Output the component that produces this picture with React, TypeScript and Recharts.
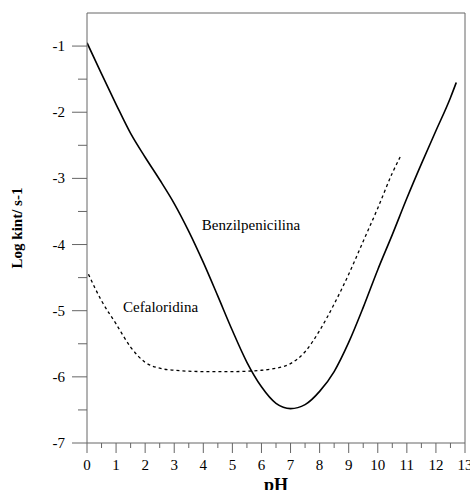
import {
  ComposedChart,
  Line,
  XAxis,
  YAxis,
  ReferenceLine,
  ReferenceDot,
  Label,
} from 'recharts'

// Benzilpenicilina (solid)
const benzPh = [0, 0.5, 1, 1.5, 2, 2.5, 3, 3.5, 4, 4.5, 5, 5.5, 6, 6.5, 7, 7.5, 8, 8.5, 9, 9.5, 10, 10.5, 11, 11.5, 12, 12.5, 12.7]
const benzLogK = [-0.95, -1.42, -1.88, -2.32, -2.68, -3.02, -3.38, -3.8, -4.27, -4.78, -5.3, -5.78, -6.15, -6.4, -6.48, -6.42, -6.22, -5.92, -5.48, -4.95, -4.38, -3.85, -3.3, -2.78, -2.28, -1.78, -1.55]

// Cefaloridina (dashed)
const cefaPh = [0.05, 0.5, 1, 1.5, 2, 2.5, 3, 4, 5, 6, 6.5, 7, 7.5, 8, 8.5, 9, 9.5, 10, 10.5, 10.8]
const cefaLogK = [-4.45, -4.85, -5.2, -5.55, -5.78, -5.87, -5.9, -5.92, -5.92, -5.9, -5.87, -5.8, -5.62, -5.3, -4.9, -4.45, -3.95, -3.45, -2.92, -2.65]

const xTicks = [0, 0.5, 1, 1.5, 2, 2.5, 3, 3.5, 4, 4.5, 5, 5.5, 6, 6.5, 7, 7.5, 8, 8.5, 9, 9.5, 10, 10.5, 11, 11.5, 12, 12.5, 13]
const yTicks = [-7, -6.5, -6, -5.5, -5, -4.5, -4, -3.5, -3, -2.5, -2, -1.5, -1]

const benzData = benzPh.map((ph, i) => ({ ph, logk: benzLogK[i] }))
const cefaData = cefaPh.map((ph, i) => ({ ph, logk: cefaLogK[i] }))

const AXIS = '#666'
const FONT = '"Liberation Serif", "Times New Roman", serif'

const XTick = ({ x, y, payload }: any) => {
  const major = Number.isInteger(payload.value)
  return (
    <g>
      <line x1={x} x2={x} y1={y} y2={y + (major ? 10 : 5)} stroke={AXIS} />
      {major && (
        <text x={x} y={y + 27} textAnchor="middle" fontSize={15} fontFamily={FONT} fill="#000">
          {payload.value}
        </text>
      )}
    </g>
  )
}

const YTick = ({ x, y, payload }: any) => {
  const major = Number.isInteger(payload.value)
  return (
    <g>
      <line x1={x - (major ? 15 : 9)} x2={x} y1={y} y2={y} stroke={AXIS} />
      {major && (
        <text x={x - 22} y={y + 5} textAnchor="end" fontSize={15} fontFamily={FONT} fill="#000">
          {payload.value}
        </text>
      )}
    </g>
  )
}

export default function App() {
  return (
    <div style={{ position: 'absolute', left: 0, top: 0, background: '#fff' }}>
      <ComposedChart width={470} height={490} margin={{ top: 13, right: 5, left: 0, bottom: 0 }}>
        <XAxis
          type="number"
          dataKey="ph"
          domain={[0, 13]}
          ticks={xTicks}
          interval={0}
          tick={<XTick />}
          tickLine={false}
          tickSize={0}
          tickMargin={0}
          stroke={AXIS}
          height={47}
          allowDataOverflow
        >
          <Label
            value="pH"
            position="insideBottom"
            offset={-1}
            fill="#000"
            fontSize={18}
            fontWeight="bold"
            fontFamily={FONT}
          />
        </XAxis>
        <YAxis
          type="number"
          dataKey="logk"
          domain={[-7, -0.5]}
          ticks={yTicks}
          interval={0}
          tick={<YTick />}
          tickLine={false}
          tickSize={0}
          tickMargin={0}
          stroke={AXIS}
          width={87}
          allowDataOverflow
        >
          <Label
            content={({ viewBox }: any) => {
              const cx = viewBox.x + 17
              const cy = viewBox.y + viewBox.height / 2
              return (
                <text
                  x={cx}
                  y={cy}
                  transform={`rotate(-90 ${cx} ${cy})`}
                  textAnchor="middle"
                  dominantBaseline="central"
                  fontSize={15}
                  fontWeight="bold"
                  fontFamily={FONT}
                  fill="#000"
                >
                  Log kint/ s-1
                </text>
              )
            }}
          />
        </YAxis>
        <ReferenceLine y={-0.5} stroke={AXIS} />
        <ReferenceLine x={13} stroke={AXIS} />
        <Line
          data={benzData}
          dataKey="logk"
          type="monotone"
          stroke="#000"
          strokeWidth={1.6}
          dot={false}
          isAnimationActive={false}
        />
        <Line
          data={cefaData}
          dataKey="logk"
          type="monotone"
          stroke="#000"
          strokeWidth={1.3}
          strokeDasharray="3 3"
          dot={false}
          isAnimationActive={false}
        />
        <ReferenceDot
          x={5.64}
          y={-3.7}
          r={0}
          fill="none"
          stroke="none"
          label={{ value: 'Benzilpenicilina', position: 'center', fill: '#000', fontSize: 15, fontFamily: FONT }}
        />
        <ReferenceDot
          x={2.53}
          y={-4.945}
          r={0}
          fill="none"
          stroke="none"
          label={{ value: 'Cefaloridina', position: 'center', fill: '#000', fontSize: 15, fontFamily: FONT }}
        />
      </ComposedChart>
    </div>
  )
}
